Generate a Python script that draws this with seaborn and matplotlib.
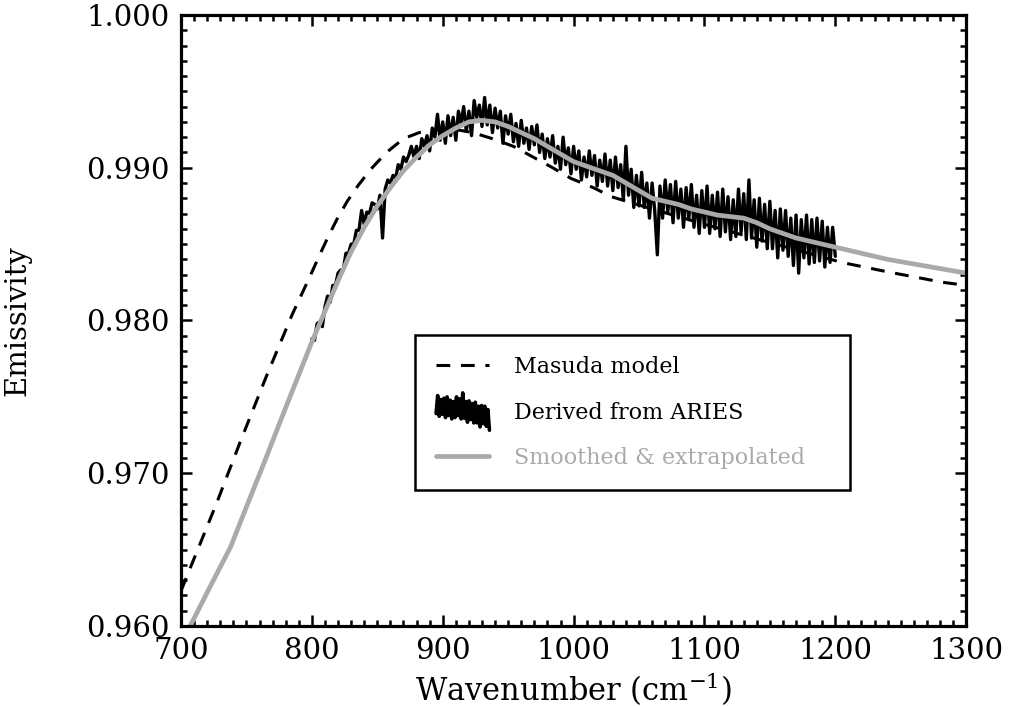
import numpy as np
import pandas as pd
import matplotlib
matplotlib.use('Agg')
import matplotlib.pyplot as plt
import seaborn as sns
from matplotlib.lines import Line2D
from matplotlib.legend_handler import HandlerBase
from matplotlib.ticker import MultipleLocator, FormatStrFormatter

# Masuda model (dashed)
masuda_wn = [700, 708, 727, 745, 765, 785, 797, 806, 812, 819, 827, 835, 845, 857,
             870, 882, 895, 910, 923, 938, 954, 969, 984, 998, 1015, 1029, 1060, 1100,
             1150, 1205, 1239, 1282, 1300]
masuda_em = [0.9623, 0.9640, 0.9680, 0.9720, 0.9763, 0.9804, 0.9826, 0.9843, 0.9854,
             0.9866, 0.9878, 0.9888, 0.9899, 0.9910, 0.9919, 0.9923, 0.9925, 0.9925, 0.9923,
             0.9919, 0.9914, 0.9907, 0.9900, 0.9893, 0.9887, 0.9881, 0.9873, 0.9863, 0.9851,
             0.9838, 0.9832, 0.9825, 0.9823]

# Smoothed & extrapolated (grey)
smooth_wn = [700, 707, 720, 738, 750, 764, 780, 800, 810, 820, 830, 840, 850, 860, 870, 880,
             890, 900, 910, 920, 930, 940, 950, 960, 970, 980, 990, 1000, 1010, 1020, 1030,
             1040, 1050, 1060, 1070, 1080, 1090, 1100, 1110, 1120, 1130, 1140, 1150, 1160,
             1170, 1180, 1190, 1200, 1220, 1240, 1260, 1280, 1300]
smooth_em = [0.9588, 0.9600, 0.9622, 0.9652, 0.9678, 0.9708, 0.9743, 0.9786, 0.9806, 0.9826,
             0.9845, 0.9861, 0.9875, 0.9887, 0.9898, 0.9907, 0.9915, 0.9921, 0.9926, 0.9930,
             0.9931, 0.9930, 0.9927, 0.9923, 0.9919, 0.9914, 0.9909, 0.9904, 0.9901, 0.9898,
             0.9895, 0.9890, 0.9885, 0.9880, 0.9878, 0.9876, 0.9873, 0.9871, 0.9869, 0.9868,
             0.9867, 0.9864, 0.9860, 0.9857, 0.9854, 0.9852, 0.9850, 0.9848, 0.9844, 0.9840,
             0.9837, 0.9834, 0.9831]

# Derived from ARIES (noisy), sampled every 2 cm-1 from 800 to 1200
aries_wn = np.arange(800, 1201, 2)
aries_em = [
    0.9788, 0.9787, 0.9798, 0.9799, 0.9796, 0.9809, 0.9816, 0.9812, 0.9823, 0.9823,
    0.9831, 0.9833, 0.9833, 0.9844, 0.9844, 0.9850, 0.9850, 0.9859, 0.9859, 0.9872,
    0.9863, 0.9871, 0.9870, 0.9877, 0.9876, 0.9873, 0.9882, 0.9854, 0.9886, 0.9892,
    0.9890, 0.9895, 0.9893, 0.9902, 0.9899, 0.9907, 0.9904, 0.9908, 0.9914, 0.9907,
    0.9914, 0.9906, 0.9919, 0.9914, 0.9921, 0.9911, 0.9926, 0.9920, 0.9935, 0.9918,
    0.9930, 0.9916, 0.9934, 0.9921, 0.9933, 0.9918, 0.9937, 0.9929, 0.9940, 0.9924,
    0.9937, 0.9921, 0.9944, 0.9933, 0.9941, 0.9927, 0.9946, 0.9928, 0.9941, 0.9923,
    0.9939, 0.9926, 0.9937, 0.9916, 0.9934, 0.9922, 0.9935, 0.9917, 0.9929, 0.9914,
    0.9931, 0.9916, 0.9926, 0.9912, 0.9927, 0.9915, 0.9928, 0.9910, 0.9922, 0.9906,
    0.9919, 0.9907, 0.9921, 0.9903, 0.9914, 0.9899, 0.9920, 0.9902, 0.9913, 0.9896,
    0.9914, 0.9899, 0.9911, 0.9892, 0.9907, 0.9894, 0.9911, 0.9895, 0.9908, 0.9888,
    0.9905, 0.9891, 0.9909, 0.9888, 0.9905, 0.9885, 0.9907, 0.9887, 0.9902, 0.9879,
    0.9914, 0.9882, 0.9899, 0.9874, 0.9895, 0.9875, 0.9897, 0.9874, 0.9890, 0.9867,
    0.9890, 0.9872, 0.9843, 0.9888, 0.9867, 0.9892, 0.9871, 0.9889, 0.9864, 0.9891,
    0.9867, 0.9886, 0.9861, 0.9887, 0.9866, 0.9889, 0.9861, 0.9882, 0.9857, 0.9885,
    0.9861, 0.9888, 0.9857, 0.9882, 0.9860, 0.9884, 0.9855, 0.9886, 0.9858, 0.9881,
    0.9853, 0.9879, 0.9855, 0.9886, 0.9858, 0.9883, 0.9853, 0.9892, 0.9854, 0.9879,
    0.9848, 0.9880, 0.9852, 0.9876, 0.9847, 0.9878, 0.9847, 0.9872, 0.9841, 0.9873,
    0.9846, 0.9872, 0.9842, 0.9867, 0.9836, 0.9869, 0.9831, 0.9866, 0.9841, 0.9869,
    0.9837, 0.9866, 0.9838, 0.9867, 0.9839, 0.9865, 0.9835, 0.9861, 0.9838, 0.9861,
    0.9842,
]

labels = ['Masuda model', 'Derived from ARIES', 'Smoothed & extrapolated']
grey = '#aaaaaa'

sns.set_style('ticks', {'axes.edgecolor': 'black', 'xtick.color': 'black',
                        'ytick.color': 'black', 'text.color': 'black',
                        'axes.labelcolor': 'black'})
plt.rcParams['font.family'] = ['DejaVu Serif']
plt.rcParams['mathtext.fontset'] = 'dejavuserif'


class NoisyHandler(HandlerBase):
    # legend glyph: a chunk of the ARIES series squeezed into the handle box
    def __init__(self, values):
        super().__init__()
        self.values = np.asarray(values)

    def create_artists(self, legend, orig_handle, xdescent, ydescent, width, height,
                       fontsize, trans):
        v = self.values
        v = (v - v.mean()) / (v.max() - v.min())
        ys = v * height * 2.4 + height / 2 - ydescent
        xs = np.linspace(-xdescent, width - xdescent, len(v))
        line = Line2D(xs, ys, color='black', lw=2.6)
        line.set_transform(trans)
        return [line]


fig, ax = plt.subplots(figsize=(10.17, 7.06), dpi=100)
fig.subplots_adjust(left=0.178, right=0.950, bottom=0.1133, top=0.9788)

sns.lineplot(x=masuda_wn, y=masuda_em, ax=ax, color='black', lw=2.2,
             linestyle=(0, (4.5, 3.5)), sort=False, estimator=None, errorbar=None)
sns.lineplot(x=aries_wn, y=aries_em, ax=ax, color='black', lw=2.4,
             sort=False, estimator=None, errorbar=None)
sns.lineplot(x=smooth_wn, y=smooth_em, ax=ax, color=grey, lw=3.4,
             sort=False, estimator=None, errorbar=None)

ax.set_xlim(700, 1300)
ax.set_ylim(0.960, 1.000)
ax.xaxis.set_major_locator(MultipleLocator(100))
ax.xaxis.set_minor_locator(MultipleLocator(10))
ax.yaxis.set_major_locator(MultipleLocator(0.01))
ax.yaxis.set_minor_locator(MultipleLocator(0.001))
ax.yaxis.set_major_formatter(FormatStrFormatter('%.3f'))

for s in ax.spines.values():
    s.set_linewidth(2.3)
    s.set_color('black')
    s.set_visible(True)
ax.tick_params(which='both', direction='in', top=True, right=True, width=1.8,
               color='black', labelcolor='black')
ax.tick_params(which='major', length=8, labelsize=21, pad=8)
ax.tick_params(which='minor', length=4)

ax.set_xlabel('Wavenumber (cm$^{-1}$)', fontsize=22, color='black')
ax.set_ylabel('Emissivity', fontsize=21, color='black')
ax.xaxis.set_label_coords(0.5, -0.072)
ax.yaxis.set_label_coords(-0.19, 0.5)

lines = ax.get_lines()
leg = ax.legend(lines[:3], labels, loc='lower left',
                bbox_to_anchor=(0.298, 0.2226, 0.554, 0.254), mode='expand',
                borderaxespad=0, fontsize=16, frameon=True, fancybox=False,
                borderpad=0.95, labelspacing=1.05, handlelength=2.4, handletextpad=1.1,
                handler_map={lines[1]: NoisyHandler(aries_em[150:185])})
leg.get_frame().set_edgecolor('black')
leg.get_frame().set_linewidth(1.8)
leg.get_frame().set_alpha(1)
for t in leg.get_texts():
    t.set_color('black')
leg.get_texts()[2].set_color(grey)

plt.savefig('out.png', dpi=100)
